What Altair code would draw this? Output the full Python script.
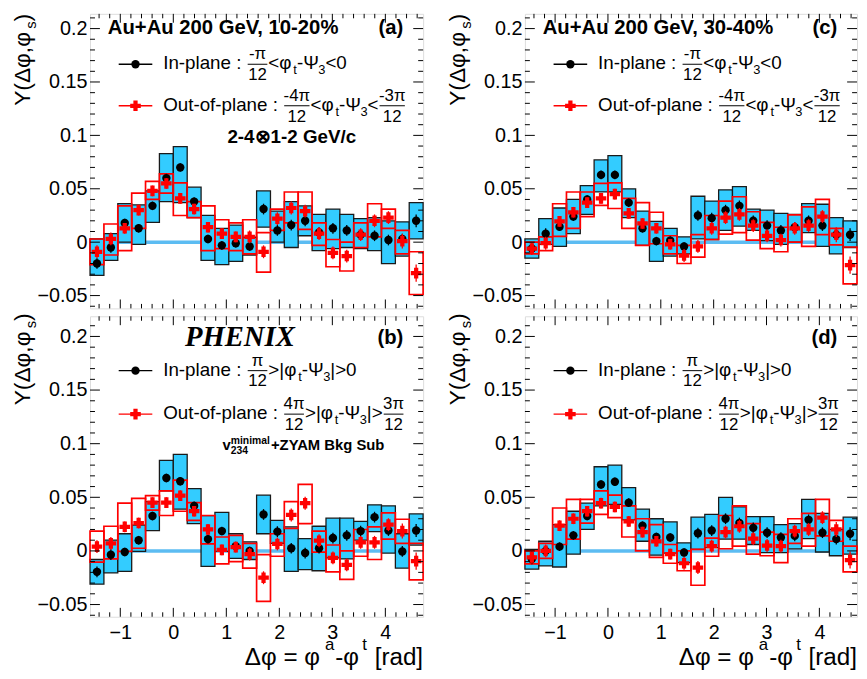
import altair as alt
import pandas as pd

# ---------------- data ----------------
dphi = [-1.440, -1.178, -0.916, -0.654, -0.393, -0.131, 0.131, 0.393, 0.654, 0.916,
        1.178, 1.440, 1.702, 1.963, 2.225, 2.487, 2.749, 3.011, 3.272, 3.534,
        3.796, 4.058, 4.320, 4.581]
bin_half = 0.1309
band_x = [-1.31, 4.45]

stat_err_in = [0.005, 0.005, 0.004, 0.004, 0.004, 0.004, 0.004, 0.004, 0.004, 0.004, 0.004, 0.004,
               0.005, 0.005, 0.005, 0.005, 0.005, 0.005, 0.005, 0.005, 0.005, 0.005, 0.005, 0.006]
stat_err_out = [0.006, 0.006, 0.005, 0.005, 0.005, 0.005, 0.005, 0.005, 0.005, 0.005, 0.005, 0.006,
                0.006, 0.006, 0.006, 0.006, 0.006, 0.006, 0.006, 0.006, 0.006, 0.006, 0.007, 0.008]

# panel (a) 10-20%, Psi3 sign-selected
a_in_y = [-0.020, -0.005, 0.018, 0.013, 0.034, 0.060, 0.070, 0.038, 0.003, -0.003, -0.001, -0.004,
          0.031, 0.011, 0.016, 0.020, 0.009, 0.013, 0.011, 0.007, 0.006, 0.002, 0.003, 0.020]
a_in_lo = [-0.031, -0.017, 0.000, -0.002, 0.0185, 0.038, 0.037, 0.023, -0.017, -0.021, -0.018, -0.012,
           0.014, 0.000, -0.005, 0.006, -0.008, -0.006, -0.005, -0.006, -0.008, -0.020, -0.013, 0.003]
a_in_hi = [0.003, 0.008, 0.036, 0.035, 0.048, 0.083, 0.0895, 0.0515, 0.025, 0.013, 0.016, 0.0046,
           0.048, 0.029, 0.038, 0.034, 0.026, 0.031, 0.026, 0.022, 0.023, 0.020, 0.019, 0.037]
a_out_y = [-0.009, 0.003, 0.013, 0.030, 0.048, 0.055, 0.041, 0.031, 0.014, 0.008, 0.005, 0.005,
           -0.009, 0.022, 0.032, 0.029, 0.008, -0.010, -0.013, 0.007, 0.020, 0.023, 0.001, -0.029]
a_out_lo = [-0.021, -0.012, -0.008, 0.013, 0.040, 0.046, 0.025, 0.023, -0.008, -0.006, -0.008, -0.011,
            -0.028, 0.011, 0.018, 0.012, -0.003, -0.023, -0.027, -0.005, 0.005, 0.013, -0.011, -0.049]
a_out_hi = [0.003, 0.017, 0.034, 0.046, 0.057, 0.064, 0.0555, 0.038, 0.034, 0.021, 0.018, 0.021,
            0.009, 0.031, 0.047, 0.047, 0.018, 0.0025, 0.000, 0.018, 0.036, 0.031, 0.011, -0.009]

# panel (b) 10-20%, |phi-Psi3| selected
b_in_y = [-0.0195, -0.0035, -0.001, 0.010, 0.0325, 0.068, 0.065, 0.042, 0.011, 0.0185, 0.0045, 0.000,
          0.034, 0.018, 0.0025, -0.002, 0.0025, 0.012, 0.0145, 0.0185, 0.0315, 0.019, -0.0005, 0.019]
b_in_lo = [-0.031, -0.0205, -0.019, -0.0005, 0.019, 0.056, 0.039, 0.0255, -0.0145, -0.0005, -0.007, -0.008,
           0.016, 0.007, -0.019, -0.0175, -0.0185, -0.0065, -0.0075, 0.010, 0.018, -0.002, -0.016, 0.0055]
b_in_hi = [-0.008, 0.010, 0.016, 0.024, 0.046, 0.0845, 0.090, 0.058, 0.033, 0.036, 0.016, 0.0085,
           0.052, 0.0285, 0.0225, 0.0115, 0.023, 0.0305, 0.0305, 0.0275, 0.043, 0.042, 0.016, 0.0345]
b_out_y = [0.004, 0.007, 0.0225, 0.026, 0.045, 0.045, 0.0515, 0.037, 0.020, 0.001, 0.0035, -0.003,
           -0.025, 0.0065, 0.0335, 0.0445, 0.0095, -0.0065, -0.013, 0.008, 0.008, 0.0245, 0.0185, -0.0095]
b_out_lo = [-0.0105, -0.0075, -0.0005, 0.0025, 0.038, 0.033, 0.037, 0.0285, 0.0065, -0.012, -0.010, -0.016,
            -0.047, -0.005, 0.021, 0.0255, -0.0012, -0.0195, -0.0265, -0.005, -0.008, 0.011, 0.007, -0.027]
b_out_hi = [0.0185, 0.023, 0.0445, 0.049, 0.0515, 0.056, 0.066, 0.045, 0.033, 0.013, 0.0145, 0.007,
            -0.0035, 0.016, 0.046, 0.062, 0.0185, 0.0055, 0.000, 0.020, 0.0225, 0.0355, 0.0295, 0.007]

# panel (c) 30-40%, Psi3 sign-selected
c_in_y = [-0.006, 0.008, 0.0145, 0.024, 0.040, 0.063, 0.063, 0.037, 0.013, 0.001, 0.0015, -0.004,
          0.025, 0.0225, 0.030, 0.034, 0.020, 0.0155, 0.011, 0.014, 0.020, 0.0155, 0.007, 0.007]
c_in_lo = [-0.015, -0.002, -0.004, 0.008, 0.026, 0.047, 0.047, 0.023, -0.003, -0.018, -0.013, -0.011,
           0.003, 0.0025, 0.011, 0.015, 0.011, 0.0015, -0.002, 0.000, 0.009, -0.004, -0.011, -0.005]
c_in_hi = [0.003, 0.022, 0.032, 0.040, 0.053, 0.077, 0.081, 0.050, 0.029, 0.0195, 0.013, 0.005,
           0.043, 0.0385, 0.049, 0.052, 0.031, 0.030, 0.027, 0.026, 0.036, 0.0355, 0.023, 0.020]
c_out_y = [-0.006, -0.001, 0.0195, 0.028, 0.037, 0.041, 0.045, 0.027, 0.0175, 0.013, -0.002, -0.0125,
           -0.004, 0.013, 0.023, 0.026, 0.0155, 0.006, 0.002, 0.013, 0.0155, 0.024, 0.007, -0.0215]
c_out_lo = [-0.011, -0.008, 0.0055, 0.013, 0.024, 0.0345, 0.0315, 0.013, -0.003, -0.0015, -0.011, -0.020,
            -0.014, 0.0025, 0.0075, 0.009, 0.002, -0.006, -0.009, 0.000, -0.004, 0.007, -0.0025, -0.039]
c_out_hi = [0.000, 0.005, 0.036, 0.047, 0.047, 0.055, 0.0555, 0.041, 0.037, 0.028, 0.006, -0.003,
            0.007, 0.025, 0.0385, 0.0425, 0.0285, 0.0185, 0.014, 0.0255, 0.033, 0.040, 0.013, -0.0045]

# panel (d) 30-40%, |phi-Psi3| selected
d_in_y = [-0.0075, 0.000, 0.004, 0.0145, 0.0325, 0.062, 0.0645, 0.045, 0.0235, 0.013, 0.0125, -0.0015,
          0.0165, 0.019, 0.030, 0.026, 0.0215, 0.017, 0.0125, 0.014, 0.029, 0.017, 0.011, 0.016]
d_in_lo = [-0.017, -0.014, -0.015, -0.003, 0.020, 0.042, 0.0435, 0.029, 0.009, -0.004, -0.002, -0.011,
           0.0015, 0.003, 0.011, 0.011, 0.006, -0.0015, -0.0015, 0.002, 0.0115, -0.001, -0.0045, -0.003]
d_in_hi = [0.0015, 0.009, 0.0245, 0.037, 0.0445, 0.0785, 0.080, 0.059, 0.039, 0.030, 0.027, 0.0075,
           0.0315, 0.034, 0.050, 0.041, 0.032, 0.032, 0.0245, 0.0255, 0.048, 0.035, 0.020, 0.0315]
d_out_y = [-0.006, 0.000, 0.0235, 0.030, 0.037, 0.0445, 0.041, 0.0275, 0.0175, 0.009, -0.003, -0.0115,
           -0.0155, 0.0045, 0.0175, 0.023, 0.0115, 0.005, 0.0045, 0.0185, 0.020, 0.031, 0.020, -0.0085]
d_out_lo = [-0.012, -0.007, 0.006, 0.011, 0.026, 0.034, 0.031, 0.013, 0.000, -0.006, -0.0115, -0.0185,
            -0.032, -0.005, 0.002, 0.0045, -0.003, -0.0045, -0.011, 0.007, 0.0045, 0.014, 0.009, -0.0195]
d_out_hi = [0.000, 0.007, 0.040, 0.048, 0.048, 0.056, 0.052, 0.042, 0.030, 0.0245, 0.006, 0.000,
            0.0015, 0.012, 0.033, 0.042, 0.0255, 0.0175, 0.0155, 0.030, 0.035, 0.048, 0.0285, 0.0045]

# axes ticks
x_major = [-1, 0, 1, 2, 3, 4]
x_minor = [-1.4, -1.2, -0.8, -0.6, -0.4, -0.2, 0.2, 0.4, 0.6, 0.8, 1.2, 1.4, 1.6, 1.8,
           2.2, 2.4, 2.6, 2.8, 3.2, 3.4, 3.6, 3.8, 4.2, 4.4, 4.6]
y_major = [-0.05, 0, 0.05, 0.1, 0.15, 0.2]
y_minor = [-0.06, -0.04, -0.03, -0.02, -0.01, 0.01, 0.02, 0.03, 0.04, 0.06, 0.07, 0.08, 0.09,
           0.11, 0.12, 0.13, 0.14, 0.16, 0.17, 0.18, 0.19, 0.21]

XMIN, XMAX = -1.5708, 4.7124
TOP_DOM = [-0.062, 0.2138]
BOT_DOM = [-0.0614, 0.2188]
W1, W2 = 337, 336
H1, H2 = 298, 304

BLUE = "#33ccff"
RED = "#ff0000"
FONT = "Liberation Sans"

# ---------------- text helpers ----------------
AR = {' ': 278, '%': 889, '(': 333, ')': 333, '+': 584, ',': 278, '-': 333, '.': 278, '/': 278,
      ':': 278, '<': 584, '=': 584, '>': 584, '[': 278, ']': 278, '|': 260,
      'A': 667, 'B': 667, 'G': 778, 'I': 278, 'M': 833, 'O': 778, 'P': 667, 'S': 667, 'V': 667,
      'Y': 667, 'Z': 611, 'a': 556, 'b': 556, 'c': 500, 'd': 556, 'e': 556, 'f': 278, 'g': 556,
      'i': 222, 'k': 500, 'l': 222, 'm': 833, 'n': 556, 'o': 556, 'p': 556, 'r': 333, 's': 500,
      't': 278, 'u': 556, 'v': 500, 'Δ': 668, 'φ': 720, 'Ψ': 778, 'π': 560}
AB = {' ': 278, '%': 889, '(': 333, ')': 333, '+': 584, ',': 278, '-': 333, '/': 278,
      'A': 722, 'B': 722, 'G': 778, 'M': 833, 'S': 667, 'V': 667, 'Y': 667, 'Z': 611,
      'a': 556, 'b': 611, 'c': 556, 'e': 556, 'g': 611, 'i': 278, 'k': 556, 'l': 278, 'm': 889,
      'n': 611, 'u': 611, 'v': 556, '⊗': 838}


def tw(s, fs, bold=False):
    t = AB if bold else AR
    return sum(t.get(ch, 556) for ch in s) * fs / 1000.0


DUMMY = pd.DataFrame({"d": [0]})


def txt(s, x, y, fs, bold=False, italic=False, font=FONT, align="left", angle=0, color="black"):
    kw = dict(text=s, font=font, fontSize=fs, align=align, baseline="alphabetic", color=color)
    if bold:
        kw["fontWeight"] = "bold"
    if italic:
        kw["fontStyle"] = "italic"
    if angle:
        kw["angle"] = angle
    return alt.Chart(DUMMY).mark_text(**kw).encode(x=alt.value(x), y=alt.value(y))


def hline(x0, x1, y, color="black", sw=1.0):
    return alt.Chart(DUMMY).mark_rule(color=color, strokeWidth=sw).encode(
        x=alt.value(x0), x2=alt.value(x1), y=alt.value(y))


FS, FSUB, FFR = 19, 13, 17


def formula(spec, x, base):
    layers = []
    for item in spec:
        kind = item[0]
        if kind == "T":
            layers.append(txt(item[1], x, base, FS))
            x += tw(item[1], FS)
        elif kind == "S":
            layers.append(txt(item[1], x + 0.5, base + 5, FSUB))
            x += tw(item[1], FSUB) + 0.5
        else:
            num, den = item[1], item[2]
            w = max(tw(num, FFR), tw(den, FFR)) + 3
            cx = x + w / 2
            layers.append(txt(num, cx, base - 10, FFR, align="center"))
            layers.append(txt(den, cx, base + 11, FFR, align="center"))
            layers.append(hline(x + 1, x + w - 1, base - 5, sw=1))
            x += w
    return layers


def legend_entry(kind, base, spec):
    y = base - 5
    if kind == "in":
        line = hline(29, 63, y, "black", 1.3)
        mk = alt.Chart(DUMMY).mark_point(shape="circle", filled=True, color="black", size=72,
                                         opacity=1).encode(x=alt.value(46), y=alt.value(y))
    else:
        line = hline(29, 63, y, RED, 1.3)
        mk = alt.Chart(DUMMY).mark_point(shape="cross", filled=True, color=RED, size=115,
                                         opacity=1).encode(x=alt.value(46), y=alt.value(y))
    return [line, mk] + formula(spec, 74, base)


SPEC_A_IN = [("T", "In-plane : "), ("F", "-π", "12"), ("T", "<φ"), ("S", "t"), ("T", "-Ψ"),
             ("S", "3"), ("T", "<0")]
SPEC_A_OUT = [("T", "Out-of-plane : "), ("F", "-4π", "12"), ("T", "<φ"), ("S", "t"), ("T", "-Ψ"),
              ("S", "3"), ("T", "<"), ("F", "-3π", "12")]
SPEC_B_IN = [("T", "In-plane : "), ("F", "π", "12"), ("T", ">|φ"), ("S", "t"), ("T", "-Ψ"),
             ("S", "3"), ("T", "|>0")]
SPEC_B_OUT = [("T", "Out-of-plane : "), ("F", "4π", "12"), ("T", ">|φ"), ("S", "t"), ("T", "-Ψ"),
              ("S", "3"), ("T", "|>"), ("F", "3π", "12")]


def y_title(top):
    parts = [("Y(Δφ,φ", 23, 0), ("s", 15, 6), (")", 23, 0)]
    total = sum(tw(p, f) for p, f, _ in parts)
    y = top + total
    out = []
    for p, f, dx in parts:
        out.append(txt(p, -60.5 + dx, y, f, angle=270))
        y -= tw(p, f)
    return out


def x_title(W, base):
    # (text, font size, vertical shift, extra gap before)
    parts = [("Δφ = φ", 24.5, 0, 0), ("a", 17, -15, 1.5), ("-φ", 24.5, 0, 1), ("t", 17, -15, 1.5),
             ("[rad]", 24.5, 0, tw(" ", 24.5) + 1)]
    total = sum(tw(p, f) + g for p, f, _, g in parts)
    x = W - total
    out = []
    for p, f, dy, g in parts:
        x += g
        out.append(txt(p, x, base + dy, f))
        x += tw(p, f)
    return out


# ---------------- panel builder ----------------
def panel(vals, W, H, ydom, bottom, extra):
    in_y, in_lo, in_hi, out_y, out_lo, out_hi = vals
    df = pd.DataFrame({
        "x": dphi, "iy": in_y, "ilo": in_lo, "ihi": in_hi, "oy": out_y, "olo": out_lo, "ohi": out_hi,
        "ie": stat_err_in, "oe": stat_err_out,
    })
    df["x0"] = df["x"] - bin_half
    df["x1"] = df["x"] + bin_half
    df["ie0"] = df["iy"] - df["ie"]
    df["ie1"] = df["iy"] + df["ie"]
    df["oe0"] = df["oy"] - df["oe"]
    df["oe1"] = df["oy"] + df["oe"]

    xs = alt.Scale(domain=[XMIN, XMAX], nice=False, zero=False)
    ys = alt.Scale(domain=ydom, nice=False, zero=False)
    xax = alt.Axis(values=x_major, format="~g", ticks=False, domain=False, grid=False,
                   labels=bottom, labelFontSize=20, labelFont=FONT, labelColor="black",
                   labelPadding=6, title=None)
    yax = alt.Axis(values=y_major, format="~g", ticks=False, domain=False, grid=False,
                   labelFontSize=20, labelFont=FONT, labelColor="black", labelPadding=3, title=None)

    def X(f):
        return alt.X(f, scale=xs, axis=xax)

    def Y(f):
        return alt.Y(f, scale=ys, axis=yax)

    base = alt.Chart(df)
    band = alt.Chart(pd.DataFrame({"x0": [band_x[0]], "x1": [band_x[1]], "y": [0.0]})).mark_rule(
        color="#5cbcf2", strokeWidth=3.5).encode(x=X("x0:Q"), x2="x1:Q", y=Y("y:Q"))
    blue = base.mark_rect(fill=BLUE, stroke="#1a1a1a", strokeWidth=1.3).encode(
        x=X("x0:Q"), x2="x1:Q", y=Y("ilo:Q"), y2="ihi:Q")
    redbox = base.mark_rect(filled=False, stroke=RED, strokeWidth=1.7).encode(
        x=X("x0:Q"), x2="x1:Q", y=Y("olo:Q"), y2="ohi:Q")
    ibar = base.mark_rule(color="black", strokeWidth=1.3).encode(x=X("x:Q"), y=Y("ie0:Q"), y2="ie1:Q")
    idot = base.mark_point(shape="circle", filled=True, color="black", size=72, opacity=1).encode(
        x=X("x:Q"), y=Y("iy:Q"))
    obar = base.mark_rule(color=RED, strokeWidth=1.3).encode(x=X("x:Q"), y=Y("oe0:Q"), y2="oe1:Q")
    ocross = base.mark_point(shape="cross", filled=True, color=RED, size=115, opacity=1).encode(
        x=X("x:Q"), y=Y("oy:Q"))

    ticks = []
    for vals_, ln in ((x_major, 9), (x_minor, 4.5)):
        tdf = pd.DataFrame({"v": vals_})
        ticks.append(alt.Chart(tdf).mark_rule(color="black", strokeWidth=1).encode(
            x=X("v:Q"), y=alt.value(H), y2=alt.value(H - ln)))
        ticks.append(alt.Chart(tdf).mark_rule(color="black", strokeWidth=1).encode(
            x=X("v:Q"), y=alt.value(0), y2=alt.value(ln)))
    for vals_, ln in ((y_major, 10), (y_minor, 5)):
        tdf = pd.DataFrame({"v": vals_})
        ticks.append(alt.Chart(tdf).mark_rule(color="black", strokeWidth=1).encode(
            y=Y("v:Q"), x=alt.value(0), x2=alt.value(ln)))
        ticks.append(alt.Chart(tdf).mark_rule(color="black", strokeWidth=1).encode(
            y=Y("v:Q"), x=alt.value(W), x2=alt.value(W - ln)))

    layers = [band, blue, redbox, ibar, idot, obar, ocross] + ticks + extra
    return alt.layer(*layers).properties(width=W, height=H)


# ---------------- annotation per panel ----------------
extra_a = ([txt("Au+Au 200 GeV, 10-20%", 18, 20, 20.5, bold=True),
            txt("(a)", 317, 20, 20.5, bold=True, align="right"),
            txt("2-4⊗1-2 GeV/c", 139, 131, 19, bold=True)]
           + legend_entry("in", 56, SPEC_A_IN) + legend_entry("out", 98, SPEC_A_OUT)
           + y_title(0))
extra_c = ([txt("Au+Au 200 GeV, 30-40%", 18, 20, 20.5, bold=True),
            txt("(c)", 316, 20, 20.5, bold=True, align="right")]
           + legend_entry("in", 56, SPEC_A_IN) + legend_entry("out", 98, SPEC_A_OUT)
           + y_title(0))
vx = 134
extra_b = ([txt("PHENIX", 96, 30, 29, bold=True, italic=True, font="Liberation Serif"),
            txt("(b)", 317, 28, 20.5, bold=True, align="right"),
            txt("v", vx, 135, 15, bold=True),
            txt("minimal", vx + tw("v", 15, True), 129, 10.5, bold=True),
            txt("234", vx + tw("v", 15, True), 139, 10.5, bold=True),
            txt("+ZYAM Bkg Sub", vx + tw("v", 15, True) + tw("minimal", 10.5, True) + 1, 135, 15, bold=True)]
           + legend_entry("in", 60, SPEC_B_IN) + legend_entry("out", 104, SPEC_B_OUT)
           + y_title(-3) + x_title(W1, 353))
extra_d = ([txt("(d)", 316, 28, 20.5, bold=True, align="right")]
           + legend_entry("in", 60, SPEC_B_IN) + legend_entry("out", 104, SPEC_B_OUT)
           + y_title(-3) + x_title(W2, 353))

pa = panel((a_in_y, a_in_lo, a_in_hi, a_out_y, a_out_lo, a_out_hi), W1, H1, TOP_DOM, False, extra_a)
pc = panel((c_in_y, c_in_lo, c_in_hi, c_out_y, c_out_lo, c_out_hi), W2, H1, TOP_DOM, False, extra_c)
pb = panel((b_in_y, b_in_lo, b_in_hi, b_out_y, b_out_lo, b_out_hi), W1, H2, BOT_DOM, True, extra_b)
pd_ = panel((d_in_y, d_in_lo, d_in_hi, d_out_y, d_out_lo, d_out_hi), W2, H2, BOT_DOM, True, extra_d)

chart = alt.concat(pa, pc, pb, pd_, columns=2, spacing={"row": 8, "column": 103},
                   bounds="flush").properties(
    padding={"left": 3, "top": 1, "right": 0, "bottom": 0},
).configure_view(stroke="black", strokeWidth=1.5).configure(font=FONT, background="white")

chart.save("out.html", embed_options={"renderer": "svg", "actions": False})
